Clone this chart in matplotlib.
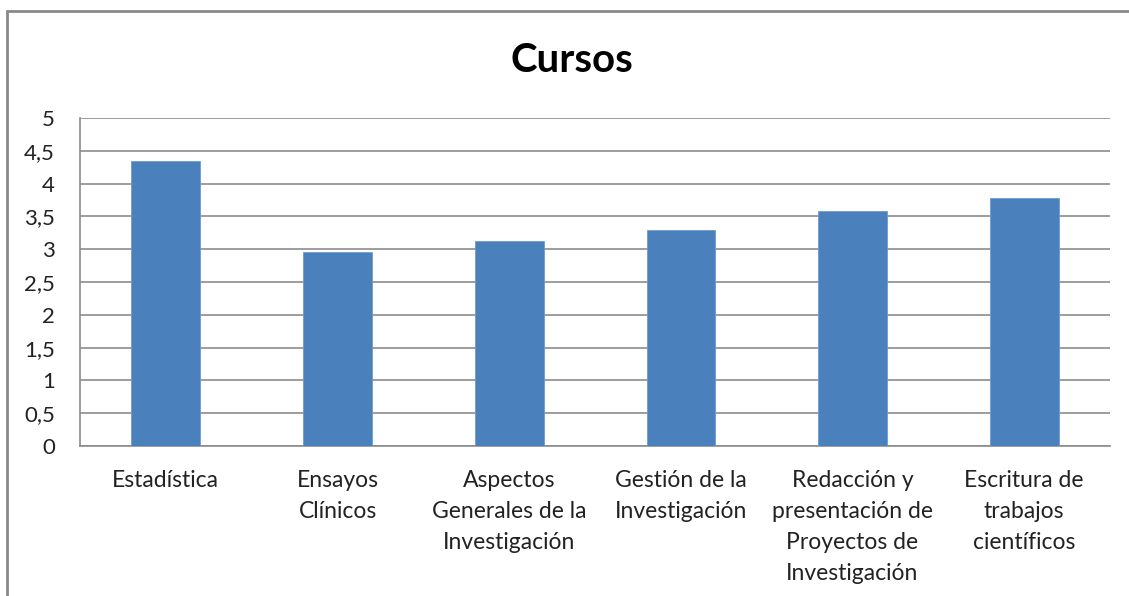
import matplotlib
matplotlib.use('Agg')

import matplotlib.pyplot as plt
from matplotlib.patches import Rectangle
from matplotlib.ticker import FuncFormatter

cursos = ["Estadística", "Ensayos\nClínicos", "Aspectos\nGenerales de la\nInvestigación",
          "Gestión de la\nInvestigación", "Redacción y\npresentación de\nProyectos de\nInvestigación",
          "Escritura de\ntrabajos\ncientíficos"]
valores = [4.34, 2.95, 3.13, 3.29, 3.58, 3.78]
yticks = [0, 0.5, 1, 1.5, 2, 2.5, 3, 3.5, 4, 4.5, 5]

plt.rcParams['font.family'] = ['Lato', 'DejaVu Sans']

fig = plt.figure(figsize=(11.29, 5.96), dpi=100)
ax = fig.add_axes([80/1129, 150/596, 1030/1129, 328/596])

x = range(len(cursos))
ax.bar(x, valores, width=0.4, color="#4A81BD", edgecolor="#6E9AD0", linewidth=0.6, zorder=3)

ax.set_xlim(-0.5, len(cursos) - 0.5)
ax.set_ylim(0, 5)
ax.set_yticks(yticks)
ax.yaxis.set_major_formatter(FuncFormatter(lambda v, p: ("%g" % v).replace(".", ",")))
ax.set_xticks(list(x))
ax.set_xticklabels(cursos, fontsize=16.5, color="#222222", linespacing=1.6)
ax.tick_params(axis='y', labelsize=16, labelcolor="#222222", length=0, pad=18)
ax.tick_params(axis='x', length=0, pad=17)
for lab in ax.get_xticklabels():
    lab.set_verticalalignment('top')

ax.grid(axis='y', color="#8C8C8C", linewidth=1.2, zorder=0)
for s in ['top', 'right']:
    ax.spines[s].set_visible(False)
ax.spines['left'].set_color("#8C8C8C")
ax.spines['bottom'].set_color("#8C8C8C")
ax.spines['left'].set_linewidth(1.2)
ax.spines['bottom'].set_linewidth(1.2)

fig.text(572/1129, 1 - 60/596, "Cursos", fontsize=29, fontweight='bold', ha='center', va='center')

# chart frame (cut off on right and bottom)
fig.patches.append(Rectangle((7/1129, -0.1), 1.2, 0.1 + (596 - 11)/596, transform=fig.transFigure,
                             fill=False, edgecolor="#8A8A8A", linewidth=2))

plt.savefig("out.png", dpi=100)
